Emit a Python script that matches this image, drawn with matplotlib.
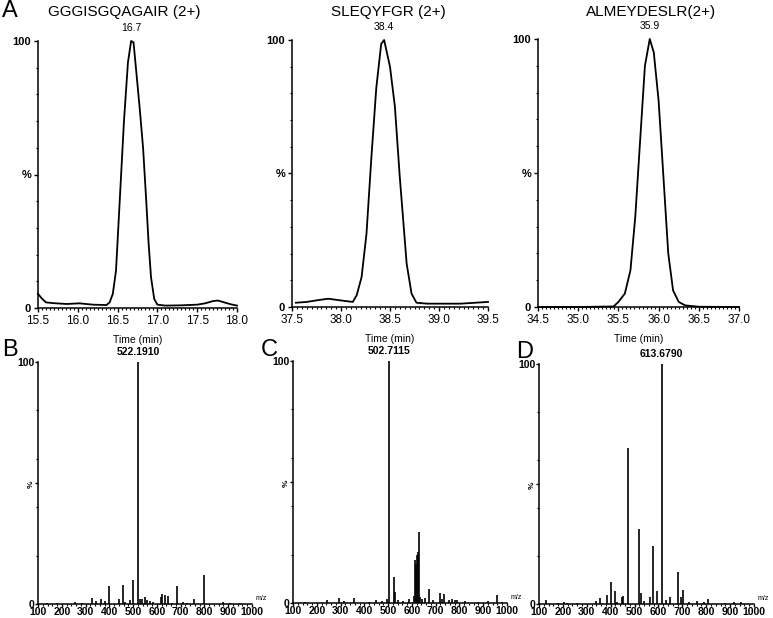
import matplotlib
matplotlib.use("Agg")
import matplotlib.pyplot as plt
from matplotlib.ticker import MultipleLocator, FixedLocator

plt.rcParams['font.family'] = ['Liberation Sans', 'DejaVu Sans']

# --- extracted ion chromatograms (time in min, relative intensity %) ---
titles = ["GGGISGQAGAIR (2+)", "SLEQYFGR (2+)", "ALMEYDESLR(2+)"]
apex_labels = ["16.7", "38.4", "35.9"]
time_ranges = [(15.5, 18.0), (37.5, 39.5), (34.5, 37.0)]

xic1_t = [15.5, 15.55, 15.6, 15.7, 15.86, 16.02, 16.19, 16.36, 16.4, 16.44, 16.48,
          16.53, 16.58, 16.63, 16.67, 16.7, 16.73, 16.78, 16.82, 16.86, 16.89,
          16.92, 16.96, 17.0, 17.1, 17.3, 17.5, 17.6, 17.7, 17.76, 17.84, 17.92, 18.0]
xic1_i = [5.3, 3.5, 2.1, 1.8, 1.5, 1.75, 1.25, 1.1, 2.1, 5.3, 14.0,
          42.0, 70.0, 92.0, 100.0, 99.5, 90.0, 74.0, 60.0, 40.0, 24.0,
          11.5, 3.4, 1.25, 0.9, 1.0, 1.25, 1.75, 2.6, 2.8, 2.1, 1.4, 0.9]

xic2_t = [37.54, 37.65, 37.77, 37.87, 37.99, 38.12, 38.16, 38.21, 38.26, 38.31,
          38.36, 38.41, 38.44, 38.5, 38.55, 38.6, 38.67, 38.72, 38.77, 38.88,
          39.22, 39.5]
xic2_i = [1.6, 1.9, 2.6, 3.1, 2.5, 1.9, 4.4, 11.2, 27.4, 56.0,
          82.0, 98.5, 100.0, 90.0, 75.0, 48.6, 16.2, 5.0, 1.6, 1.25,
          1.25, 1.9]

xic3_t = [34.5, 35.0, 35.44, 35.5, 35.58, 35.65, 35.71, 35.77, 35.83, 35.89,
          35.94, 36.0, 36.06, 36.12, 36.18, 36.25, 36.33, 36.5, 37.0]
xic3_i = [0.0, 0.0, 0.2, 1.9, 5.0, 13.7, 33.7, 62.0, 90.0, 100.0,
          95.0, 77.0, 48.6, 20.0, 6.2, 1.9, 0.6, 0.1, 0.0]

# --- MS spectra (m/z, relative intensity %) ---
spec_labels = ["522.1910", "502.7115", "613.6790"]

b_mz = [136, 182, 256, 284, 326, 343, 364, 382, 399, 439, 456, 466, 487, 498,
        522.191, 529, 539, 550, 560, 571, 585, 616, 623, 634, 648, 662, 683,
        709, 725, 758, 798, 880, 908, 950]
b_int = [0.4, 0.3, 0.7, 0.5, 2.5, 1.4, 2.0, 1.1, 7.6, 2.0, 8.0, 0.8, 1.5, 9.9,
         100.0, 2.2, 2.2, 2.9, 1.8, 1.4, 0.8, 2.9, 4.3, 3.6, 3.4, 0.6, 7.3,
         1.0, 0.5, 2.0, 12.1, 1.0, 0.4, 0.3]

c_mz = [150, 242, 294, 316, 357, 420, 448, 476, 494, 502.7115, 525, 531, 543,
        564, 588, 610, 615, 618, 622, 626, 629, 633, 644, 655, 672, 690, 720,
        728, 737, 754, 768, 782, 789, 824, 880, 922, 957, 978]
c_int = [0.4, 1.4, 1.9, 0.7, 1.9, 0.5, 1.1, 0.8, 1.7, 100.0, 10.8, 4.6, 1.1,
         0.8, 1.8, 3.0, 17.9, 16.0, 20.0, 21.0, 29.5, 2.5, 1.7, 1.9, 5.9, 1.1,
         4.1, 1.7, 3.7, 1.4, 1.7, 1.4, 1.4, 0.8, 0.6, 0.8, 3.5, 0.4]

d_mz = [130, 180, 205, 216, 260, 338, 356, 386, 402, 417, 428, 446, 452, 472,
        518, 525, 539, 563, 578, 592, 613.679, 630, 647, 680, 696, 704, 728,
        762, 790, 808, 880, 915, 945]
d_int = [1.8, 0.5, 0.8, 0.6, 0.4, 1.1, 2.5, 3.6, 9.0, 5.5, 1.0, 2.8, 3.3, 65.0,
         31.2, 4.6, 1.2, 2.8, 24.3, 5.3, 100.0, 1.5, 2.8, 13.3, 2.9, 6.0, 0.8,
         1.4, 0.7, 2.0, 0.5, 0.8, 0.8]

xic_data = [(xic1_t, xic1_i), (xic2_t, xic2_i), (xic3_t, xic3_i)]
spec_data = [(b_mz, b_int), (c_mz, c_int), (d_mz, d_int)]

W, H = 773, 618
fig = plt.figure(figsize=(W / 100, H / 100), dpi=100)


def px_axes(left, right, top, bottom):
    return fig.add_axes([left / W, 1 - bottom / H, (right - left) / W, (bottom - top) / H])


def style_axes(ax, length=3, pad=2):
    for s in ['top', 'right']:
        ax.spines[s].set_visible(False)
    for s in ['left', 'bottom']:
        ax.spines[s].set_linewidth(1.1)
    ax.tick_params(which='major', direction='out', length=length, width=1.0, pad=pad)
    ax.tick_params(which='minor', direction='out', length=length * 0.6, width=0.8)


# top row: chromatograms
top_boxes = [(38, 237, 41, 308), (292, 488, 40, 307), (538, 739, 39, 307)]
title_x = [124, 388, 651]
for i, (t, inten) in enumerate(xic_data):
    ax = px_axes(*top_boxes[i])
    style_axes(ax)
    ax.plot(t, inten, color='black', lw=1.3, clip_on=False)
    lo, hi = time_ranges[i]
    ax.set_xlim(lo, hi)
    ax.set_ylim(0, 100)
    ax.xaxis.set_major_locator(MultipleLocator(0.5))
    ax.xaxis.set_minor_locator(MultipleLocator(0.05))
    ax.yaxis.set_major_locator(FixedLocator([0, 50, 100]))
    ax.yaxis.set_minor_locator(MultipleLocator(10))
    ax.set_yticklabels(['0', '%', '100'], fontsize=8, fontweight='bold')
    ax.set_xticklabels([f"{v:.1f}" for v in ax.get_xticks()], fontsize=8.5)
    ax.set_xlabel("Time (min)", fontsize=7.5, labelpad=6)
    peak_t = t[inten.index(max(inten))]
    ax.text(peak_t, 103, apex_labels[i], ha='center', va='bottom', fontsize=7.5)
    fig.text(title_x[i] / W, 1 - 12 / H, titles[i], ha='center', va='center',
             fontsize=11)

# bottom row: spectra
bot_boxes = [(38, 252, 362, 604), (293, 507, 361, 603), (539, 754, 364, 604)]
for i, (mz, inten) in enumerate(spec_data):
    ax = px_axes(*bot_boxes[i])
    style_axes(ax, length=2, pad=0.5)
    ax.vlines(mz, 0, inten, color='black', lw=1.2)
    ax.set_xlim(100, 1000)
    ax.set_ylim(0, 100)
    ax.xaxis.set_major_locator(MultipleLocator(100))
    ax.xaxis.set_minor_locator(MultipleLocator(20))
    ax.yaxis.set_major_locator(FixedLocator([0, 50, 100]))
    ax.yaxis.set_minor_locator(MultipleLocator(20))
    ax.set_yticklabels(['0', '%', '100'], fontsize=7.5, fontweight='bold')
    for lab in ax.get_yticklabels():
        if lab.get_text() == '%':
            lab.set_rotation(90)
            lab.set_fontsize(6)
    ax.set_xticklabels([str(int(v)) for v in ax.get_xticks()], fontsize=7.5,
                       fontweight='bold')
    top = inten.index(max(inten))
    ax.text(mz[top], 102, spec_labels[i], ha='center', va='bottom',
            fontsize=7.5, fontweight='bold')
    ax.text(1.015, 0.01, "m/z", transform=ax.transAxes, ha='left', va='bottom',
            fontsize=5)

# panel letters
for letter, (x, y) in zip("ABCD", [(2, 11), (2, 350), (261, 350), (516, 352)]):
    fig.text(x / W, 1 - y / H, letter, fontsize=17, ha='left', va='center')

fig.savefig("out.png", dpi=100)
